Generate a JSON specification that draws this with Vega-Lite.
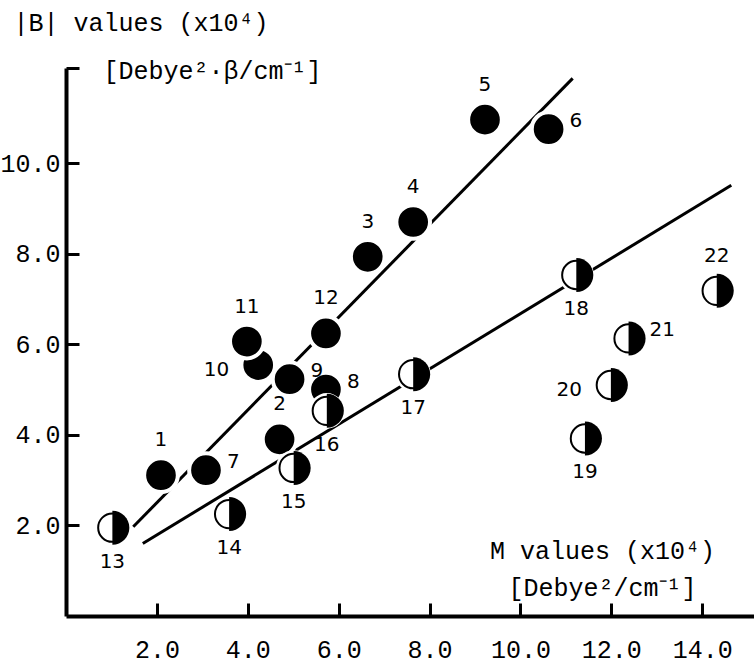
{
  "$schema": "https://vega.github.io/schema/vega-lite/v6.json",
  "width": 688,
  "height": 548,
  "autosize": {"type": "none"},
  "padding": {"left": 66, "top": 68, "right": 0, "bottom": 52},
  "background": "white",
  "config": {
    "view": {"stroke": null},
    "axis": {
      "grid": false,
      "ticks": true,
      "tickSize": -13,
      "tickColor": "black",
      "tickWidth": 3,
      "domainColor": "black",
      "labelColor": "black",
      "titleColor": "black",
      "labelFont": "Liberation Mono",
      "titleFont": "Liberation Mono",
      "labelFontSize": 25,
      "titleFontSize": 25,
      "titleFontWeight": "normal",
      "domainWidth": 4,
      "labelOverlap": false,
      "zindex": 1
    }
  },
  "datasets": {
    "points": [
      {"id": 1, "x": 2.09, "y": 3.11, "group": "filled", "labelPos": "above"},
      {"id": 2, "x": 4.70, "y": 3.90, "group": "filled", "labelPos": "above"},
      {"id": 3, "x": 6.64, "y": 7.93, "group": "filled", "labelPos": "above"},
      {"id": 4, "x": 7.64, "y": 8.70, "group": "filled", "labelPos": "above"},
      {"id": 5, "x": 9.22, "y": 10.96, "group": "filled", "labelPos": "above"},
      {"id": 6, "x": 10.62, "y": 10.75, "group": "filled", "labelPos": "right"},
      {"id": 7, "x": 3.08, "y": 3.22, "group": "filled", "labelPos": "right"},
      {"id": 8, "x": 5.72, "y": 5.00, "group": "filled", "labelPos": "right"},
      {"id": 9, "x": 4.92, "y": 5.23, "group": "filled", "labelPos": "right"},
      {"id": 10, "x": 4.23, "y": 5.54, "group": "filled", "labelPos": "left"},
      {"id": 11, "x": 3.98, "y": 6.06, "group": "filled", "labelPos": "above"},
      {"id": 12, "x": 5.72, "y": 6.24, "group": "filled", "labelPos": "above"},
      {"id": 13, "x": 1.02, "y": 1.95, "group": "half", "labelPos": "below"},
      {"id": 14, "x": 3.59, "y": 2.25, "group": "half", "labelPos": "below"},
      {"id": 15, "x": 5.01, "y": 3.27, "group": "half", "labelPos": "below"},
      {"id": 16, "x": 5.74, "y": 4.53, "group": "half", "labelPos": "below"},
      {"id": 17, "x": 7.64, "y": 5.34, "group": "half", "labelPos": "below"},
      {"id": 18, "x": 11.23, "y": 7.53, "group": "half", "labelPos": "below"},
      {"id": 19, "x": 11.42, "y": 3.92, "group": "half", "labelPos": "below"},
      {"id": 20, "x": 11.99, "y": 5.10, "group": "half", "labelPos": "left"},
      {"id": 21, "x": 12.38, "y": 6.13, "group": "half", "labelPos": "right"},
      {"id": 22, "x": 14.32, "y": 7.18, "group": "half", "labelPos": "above"}
    ],
    "lines": [
      {"line": "A", "x": 1.48, "y": 1.97},
      {"line": "A", "x": 11.15, "y": 11.87},
      {"line": "B", "x": 1.69, "y": 1.60},
      {"line": "B", "x": 14.64, "y": 9.51}
    ]
  },
  "encoding": {
    "x": {
      "field": "x",
      "type": "quantitative",
      "scale": {"domain": [0, 15.14], "nice": false, "zero": false},
      "axis": {
        "values": [2, 4, 6, 8, 10, 12, 14],
        "format": ".1f",
        "labelPadding": 34,
        "title": ["M values (x10⁴)", "[Debye²/cm⁻¹]"],
        "titleX": 536,
        "titleY": -58,
        "titleAlign": "center",
        "titleBaseline": "alphabetic",
        "titleLineHeight": 37
      }
    },
    "y": {
      "field": "y",
      "type": "quantitative",
      "scale": {"domain": [0, 12.1], "nice": false, "zero": false},
      "axis": {
        "values": [2, 4, 6, 8, 10, 12.1],
        "labelExpr": "datum.value > 11 ? '' : format(datum.value, '.1f')",
        "labelPadding": 19,
        "title": ["|B| values (x10⁴)", "\u200b\u00a0\u00a0\u00a0\u00a0\u00a0\u00a0[Debye²·β/cm⁻¹]"],
        "titleAngle": 0,
        "titleAlign": "left",
        "titleBaseline": "alphabetic",
        "titleX": -53,
        "titleY": -38,
        "titleLineHeight": 48
      }
    }
  },
  "layer": [
    {
      "data": {"name": "lines"},
      "mark": {"type": "line", "stroke": "black", "strokeWidth": 3},
      "encoding": {"detail": {"field": "line"}}
    },
    {
      "data": {"name": "points"},
      "transform": [{"filter": "datum.group == 'filled'"}],
      "mark": {"type": "point", "shape": "circle", "filled": true, "fill": "black", "stroke": "white", "strokeWidth": 4, "size": 1134, "opacity": 1}
    },
    {
      "data": {"name": "points"},
      "transform": [{"filter": "datum.group == 'half'"}],
      "mark": {"type": "point", "shape": "circle", "filled": true, "fill": "white", "strokeWidth": 0, "size": 1257, "opacity": 1}
    },
    {
      "data": {"name": "points"},
      "transform": [{"filter": "datum.group == 'half'"}],
      "mark": {"type": "point", "shape": "circle", "filled": true, "fill": "white", "stroke": "black", "strokeWidth": 2, "size": 804, "opacity": 1}
    },
    {
      "data": {"name": "points"},
      "transform": [{"filter": "datum.group == 'half'"}],
      "mark": {"type": "point", "shape": "M0,-1A1,1,0,0,1,0,1Z", "filled": true, "fill": "black", "strokeWidth": 0, "size": 1156, "opacity": 1}
    },
    {
      "data": {"name": "points"},
      "transform": [{"filter": "datum.labelPos == 'above'"}],
      "mark": {"type": "text", "font": "DejaVu Sans", "fontSize": 20, "align": "center", "baseline": "middle", "dy": -35, "color": "black"},
      "encoding": {"text": {"field": "id"}}
    },
    {
      "data": {"name": "points"},
      "transform": [{"filter": "datum.labelPos == 'below'"}],
      "mark": {"type": "text", "font": "DejaVu Sans", "fontSize": 20, "align": "center", "baseline": "middle", "dy": 34, "color": "black"},
      "encoding": {"text": {"field": "id"}}
    },
    {
      "data": {"name": "points"},
      "transform": [{"filter": "datum.labelPos == 'right'"}],
      "mark": {"type": "text", "font": "DejaVu Sans", "fontSize": 20, "align": "left", "baseline": "middle", "dx": 21, "dy": -8, "color": "black"},
      "encoding": {"text": {"field": "id"}}
    },
    {
      "data": {"name": "points"},
      "transform": [{"filter": "datum.labelPos == 'left'"}],
      "mark": {"type": "text", "font": "DejaVu Sans", "fontSize": 20, "align": "right", "baseline": "middle", "dx": -29, "dy": 5, "color": "black"},
      "encoding": {"text": {"field": "id"}}
    }
  ]
}
